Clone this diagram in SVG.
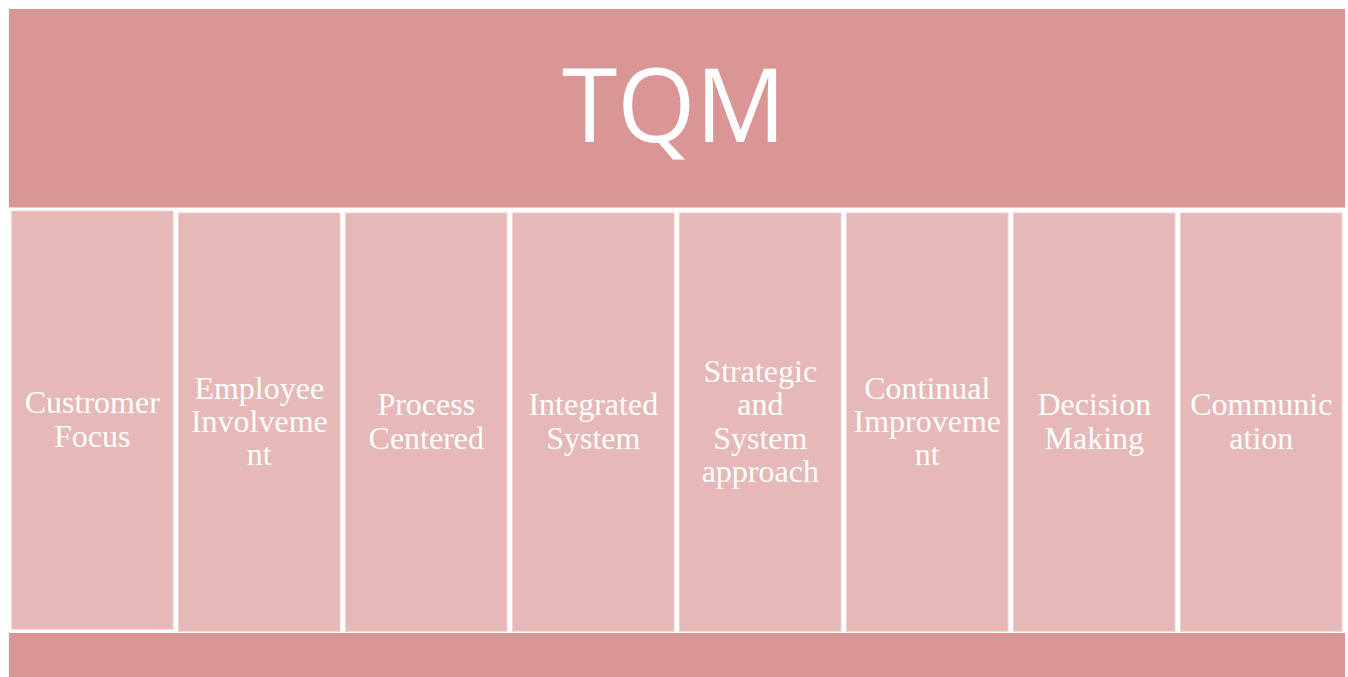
<svg xmlns="http://www.w3.org/2000/svg" width="1348" height="677" viewBox="0 0 1348 677">
  <style>
    .band { fill: #D99694; }
    .pillar { fill: #E6B8B7; stroke: #F0D0CF; stroke-width: 1; }
    .title { fill: #FFFFFF; font-family: "Open Sans", "Noto Sans", sans-serif; font-size: 102px; text-anchor: middle; }
    .label { fill: #FFFFFF; font-family: "Liberation Serif", "Times New Roman", serif; font-size: 32px; text-anchor: middle; }
  </style>
  <rect width="1348" height="677" fill="#FFFFFF"/>

  <!-- roof -->
  <g id="roof">
    <rect class="band" x="9" y="9" width="1336" height="198.5"/>
    <text class="title" x="674" y="142" textLength="224" lengthAdjust="spacingAndGlyphs">TQM</text>
  </g>

  <!-- pillars -->
  <g id="pillar-customer-focus">
    <rect class="pillar" x="11.7" y="211" width="161.3" height="418.3"/>
    <text class="label" x="92.3" y="413.3">Custromer</text>
    <text class="label" x="92.3" y="446.7">Focus</text>
  </g>
  <g id="pillar-employee-involvement">
    <rect class="pillar" x="178.5" y="213" width="161.5" height="418.3"/>
    <text class="label" x="259.3" y="398.7">Employee</text>
    <text class="label" x="259.3" y="432">Involveme</text>
    <text class="label" x="259.3" y="465.3">nt</text>
  </g>
  <g id="pillar-process-centered">
    <rect class="pillar" x="345.5" y="213" width="161.5" height="418.3"/>
    <text class="label" x="426.3" y="415.3">Process</text>
    <text class="label" x="426.3" y="448.7">Centered</text>
  </g>
  <g id="pillar-integrated-system">
    <rect class="pillar" x="512.5" y="213" width="161.5" height="418.3"/>
    <text class="label" x="593.3" y="415.3">Integrated</text>
    <text class="label" x="593.3" y="448.7">System</text>
  </g>
  <g id="pillar-strategic-approach">
    <rect class="pillar" x="679.5" y="213" width="161.5" height="418.3"/>
    <text class="label" x="760.3" y="382">Strategic</text>
    <text class="label" x="760.3" y="415.3">and</text>
    <text class="label" x="760.3" y="448.7">System</text>
    <text class="label" x="760.3" y="482">approach</text>
  </g>
  <g id="pillar-continual-improvement">
    <rect class="pillar" x="846.5" y="213" width="161.5" height="418.3"/>
    <text class="label" x="927.3" y="398.7">Continual</text>
    <text class="label" x="927.3" y="432">Improveme</text>
    <text class="label" x="927.3" y="465.3">nt</text>
  </g>
  <g id="pillar-decision-making">
    <rect class="pillar" x="1013.5" y="213" width="161.5" height="418.3"/>
    <text class="label" x="1094.3" y="415.3">Decision</text>
    <text class="label" x="1094.3" y="448.7">Making</text>
  </g>
  <g id="pillar-communication">
    <rect class="pillar" x="1180.5" y="213" width="161.5" height="418.3"/>
    <text class="label" x="1261.3" y="415.3">Communic</text>
    <text class="label" x="1261.3" y="448.7">ation</text>
  </g>

  <!-- base -->
  <g id="base">
    <rect class="band" x="9" y="633" width="1336" height="44"/>
  </g>

  <g id="connectors"/>
</svg>
